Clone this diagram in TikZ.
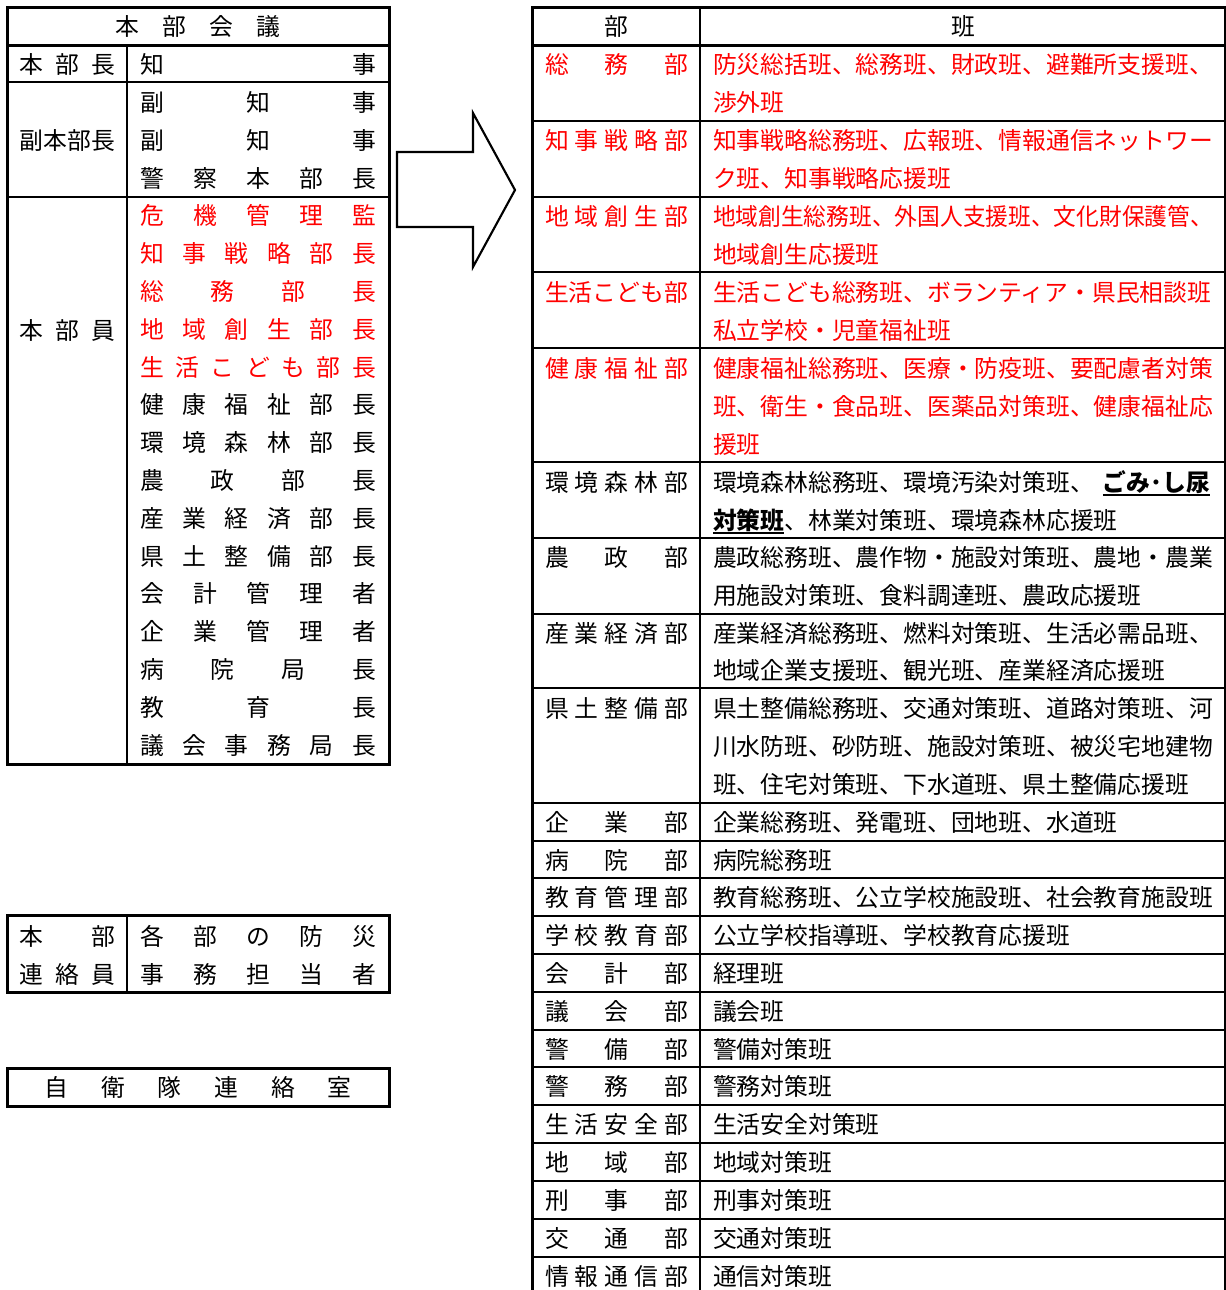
\documentclass[tikz,border=0pt]{standalone}
\usepackage{fontspec}
\setmainfont{Noto Sans CJK JP}
\definecolor{jred}{RGB}{255,0,0}
\newdimen\pxu \pxu=0.75pt
\def\spreadend{}
\def\spreadloop#1{\ifx#1\spreadend\else\hfill#1\expandafter\spreadloop\fi}
\def\spreadfirst#1{#1\spreadloop}
\newcommand\sptext[2]{\makebox[#1\pxu][s]{\expandafter\spreadfirst#2\spreadend}}
\newcommand\ulb[1]{\setbox0=\hbox{\bfseries #1}\rlap{\rule[-3.6pt]{\wd0}{1.5pt}}\box0}
\tikzset{
  thickline/.style={line width=2.25pt},
  thinline/.style={line width=1.5pt},
  rowline/.style={line width=1.9pt},
  txt/.style={inner sep=0pt, outer sep=0pt, anchor=west, text height=15.7pt, text depth=2.1pt,
    font=\fontsize{17.85pt}{21pt}\selectfont},
}
\begin{document}
\begin{tikzpicture}[x=0.75pt,y=-0.75pt]
\useasboundingbox (0,0) rectangle (1226,1290);
% ---------- left main table ----------
\draw[thickline] (7,7) rectangle (389,764);
\draw[thickline] (7,45) -- (389,45);
\draw[thinline] (127,45) -- (127,764);
\draw[thinline] (7,82) -- (389,82);
\draw[thinline] (7,197) -- (389,197);
\node[txt,anchor=center] (lhead) at (198,26) {\sptext{165}{本部会議}};
\node[txt] (lcho) at (20,64) {\sptext{95}{本部長}};
\node[txt] (lchoN) at (140,64) {\sptext{236}{知事}};
\node[txt] (lfuku) at (20,140) {\sptext{95}{副本部長}};
\node[txt] (lf1) at (140,102) {\sptext{236}{副知事}};
\node[txt] (lf2) at (140,140) {\sptext{236}{副知事}};
\node[txt] (lf3) at (140,178) {\sptext{236}{警察本部長}};
\node[txt] (linn) at (20,330) {\sptext{95}{本部員}};
\foreach \nm/\cl [count=\i] in {危機管理監/jred,知事戦略部長/jred,総務部長/jred,地域創生部長/jred,生活こども部長/jred,
  健康福祉部長/black,環境森林部長/black,農政部長/black,産業経済部長/black,県土整備部長/black,
  会計管理者/black,企業管理者/black,病院局長/black,教育長/black,議会事務局長/black}
  \node[txt,text=\cl] (mem\i) at (140,{197+37.8*(\i-0.5)}) {\sptext{236}{\nm}};
% ---------- liaison table ----------
\draw[thickline] (7,915) rectangle (389,992);
\draw[thinline] (127,915) -- (127,992);
\node[txt] (renA) at (20,936) {\sptext{95}{本部}};
\node[txt] (renB) at (20,974) {\sptext{95}{連絡員}};
\node[txt] (renC) at (140,936) {\sptext{236}{各部の防災}};
\node[txt] (renD) at (140,974) {\sptext{236}{事務担当者}};
% ---------- SDF liaison ----------
\draw[thickline] (7,1068) rectangle (389,1106);
\node[txt,anchor=center] (jsdf) at (198,1087) {\sptext{307}{自衛隊連絡室}};
% ---------- arrow ----------
\draw[line width=1.6pt,line join=miter] (397,152) -- (473,152) -- (473,113) -- (515,190) -- (473,267) -- (473,227) -- (397,227) -- cycle;
% ---------- right table ----------
\draw[thickline] (532,1300) -- (532,7) -- (1225,7) -- (1225,1300);
\draw[thickline] (532,45) -- (1225,45);
\draw[thinline] (700,7) -- (700,1300);
\foreach \yy in {121,197,272,348,462,538,614,688,803,841,878,916,954,992,1030,1067,1105,1143,1181,1219,1257}
  \draw[rowline] (532,\yy) -- (1225,\yy);
\node[txt,anchor=center] (rhA) at (616,26) {部};
\node[txt,anchor=center] (rhB) at (963,26) {班};
% red rows
\begin{scope}[every node/.append style={text=jred}]
\node[txt] (n1) at (545,64) {\sptext{143}{総務部}};
\node[txt] (t1a) at (713,64) {防災総括班、総務班、財政班、避難所支援班、};
\node[txt] (t1b) at (713,102) {渉外班};
\node[txt] (n2) at (545,140) {\sptext{143}{知事戦略部}};
\node[txt] (t2a) at (713,140) {知事戦略総務班、広報班、情報通信ネットワー};
\node[txt] (t2b) at (713,178) {ク班、知事戦略応援班};
\node[txt] (n3) at (545,216) {\sptext{143}{地域創生部}};
\node[txt] (t3a) at (713,216) {\scalebox{0.955}[1]{地域創生総務班、外国人支援班、文化財保護管、}};
\node[txt] (t3b) at (713,254) {地域創生応援班};
\node[txt] (n4) at (545,292) {\sptext{143}{生活こども部}};
\node[txt] (t4a) at (713,292) {生活こども総務班、ボランティア・県民相談班};
\node[txt] (t4b) at (713,330) {私立学校・児童福祉班};
\node[txt] (n5) at (545,368) {\sptext{143}{健康福祉部}};
\node[txt] (t5a) at (713,368) {健康福祉総務班、医療・防疫班、要配慮者対策};
\node[txt] (t5b) at (713,406) {班、衛生・食品班、医薬品対策班、健康福祉応};
\node[txt] (t5c) at (713,444) {援班};
\end{scope}
% black multi-line rows
\node[txt] (n6) at (545,482) {\sptext{143}{環境森林部}};
\node[txt] (t6a) at (713,482) {環境森林総務班、環境汚染対策班、\hspace{9\pxu}\ulb{ごみ･し尿}};
\node[txt] (t6b) at (713,520) {\ulb{対策班}、林業対策班、環境森林応援班};
\node[txt] (n7) at (545,557) {\sptext{143}{農政部}};
\node[txt] (t7a) at (713,557) {農政総務班、農作物・施設対策班、農地・農業};
\node[txt] (t7b) at (713,595) {用施設対策班、食料調達班、農政応援班};
\node[txt] (n8) at (545,633) {\sptext{143}{産業経済部}};
\node[txt] (t8a) at (713,633) {産業経済総務班、燃料対策班、生活必需品班、};
\node[txt] (t8b) at (713,670) {地域企業支援班、観光班、産業経済応援班};
\node[txt] (n9) at (545,708) {\sptext{143}{県土整備部}};
\node[txt] (t9a) at (713,708) {県土整備総務班、交通対策班、道路対策班、河};
\node[txt] (t9b) at (713,746) {川水防班、砂防班、施設対策班、被災宅地建物};
\node[txt] (t9c) at (713,784) {班、住宅対策班、下水道班、県土整備応援班};
% single-line rows
\foreach \nm/\tx/\yy [count=\i] in {企業部/企業総務班、発電班、団地班、水道班/822,
  病院部/病院総務班/860, 教育管理部/教育総務班、公立学校施設班、社会教育施設班/897,
  学校教育部/公立学校指導班、学校教育応援班/935, 会計部/経理班/973, 議会部/議会班/1011,
  警備部/警備対策班/1049, 警務部/警務対策班/1086, 生活安全部/生活安全対策班/1124,
  地域部/地域対策班/1162, 刑事部/刑事対策班/1200, 交通部/交通対策班/1238, 情報通信部/通信対策班/1276}
{
  \node[txt] (sn\i) at (545,\yy) {\sptext{143}{\nm}};
  \node[txt] (st\i) at (713,\yy) {\tx};
}
\end{tikzpicture}
\end{document}
